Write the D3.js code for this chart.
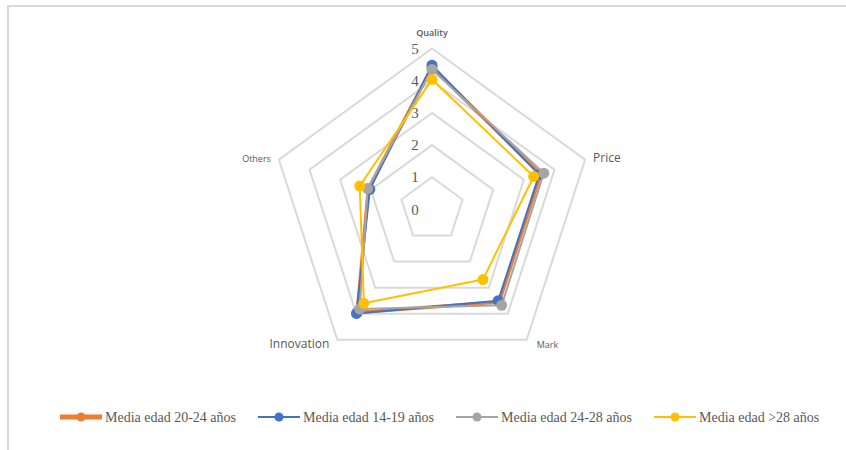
<!DOCTYPE html>
<html><head><meta charset="utf-8">
<script src="https://cdn.jsdelivr.net/npm/d3@7"></script>
<style>body{margin:0;background:#fff;}svg{display:block;}</style>
</head><body>
<svg id="chart" width="846" height="450"></svg>
<script>
const axes = ["Quality", "Price", "Mark", "Innovation", "Others"];
const seriesNames = ["Media edad 20-24 años", "Media edad 14-19 años", "Media edad 24-28 años", "Media edad >28 años"];
const serie2024 = [4.42, 3.55, 3.55, 3.95, 2.08];
const serie1419 = [4.48, 3.50, 3.50, 3.99, 2.03];
const serie2428 = [4.35, 3.65, 3.68, 3.82, 2.10];
const serie28 = [4.04, 3.32, 2.69, 3.60, 2.36];
const tickLabels = [0, 1, 2, 3, 4, 5];
const colors = ["#ED7D31", "#4472C4", "#A5A5A5", "#FFC000"];

const allSeries = [serie2024, serie1419, serie2428, serie28];
const svg = d3.select("#chart");
const cx = 432, cy = 209.5, R = 161;
const r = d3.scaleLinear().domain([0, 5]).range([0, R]);
const ang = d3.scalePoint().domain(axes).range([0, 2 * Math.PI * 4 / 5]);
const pt = (a, v) => [cx + r(v) * Math.sin(ang(a)), cy - r(v) * Math.cos(ang(a))];

// frame
svg.append("line").attr("x1", 7).attr("y1", 6).attr("x2", 846).attr("y2", 6).attr("stroke", "#d9d9d9").attr("stroke-width", 2);
svg.append("line").attr("x1", 8).attr("y1", 5).attr("x2", 8).attr("y2", 450).attr("stroke", "#d9d9d9").attr("stroke-width", 2);

// grid
tickLabels.filter(t => t > 0).forEach(t => {
  svg.append("polygon")
    .attr("points", axes.map(a => pt(a, t).join(",")).join(" "))
    .attr("fill", "none").attr("stroke", "#d9d9d9").attr("stroke-width", 2);
});

// tick labels
svg.selectAll("text.tick").data(tickLabels).enter().append("text")
  .attr("class", "tick")
  .attr("x", cx - 17).attr("y", d => cy - r(d) + 5)
  .attr("text-anchor", "middle")
  .attr("font-family", "Liberation Serif, serif").attr("font-size", 15)
  .attr("fill", "#595959").text(d => d);

// axis labels
axes.forEach((a, i) => {
  const [vx, vy] = pt(a, 5);
  const s = Math.sin(ang(a)), c = Math.cos(ang(a));
  let x = vx, y = vy, anchor = "middle";
  if (Math.abs(s) < 0.01) { y = vy - 13; }
  else if (c > 0) { x = vx + (s > 0 ? 8 : -8); anchor = s > 0 ? "start" : "end"; y = vy + 2; }
  else { x = vx + (s > 0 ? 10 : -8); anchor = s > 0 ? "start" : "end"; y = vy + 8; }
  const big = (a === "Price" || a === "Innovation");
  svg.append("text").attr("x", x).attr("y", y).attr("text-anchor", anchor)
    .attr("font-family", "Open Sans, sans-serif").attr("font-size", big ? 12 : 9)
    .attr("font-weight", a === "Quality" ? 600 : 400)
    .attr("fill", "#595959").text(a);
});

// series
const line = d3.line().curve(d3.curveLinearClosed);
allSeries.forEach((vals, si) => {
  const pts = axes.map((a, i) => pt(a, vals[i]));
  svg.append("path").attr("d", line(pts)).attr("fill", "none")
    .attr("stroke", colors[si]).attr("stroke-width", si === 0 ? 3.5 : 2).attr("stroke-linejoin", "round");
  svg.append("g").selectAll("circle").data(pts).enter().append("circle")
    .attr("cx", d => d[0]).attr("cy", d => d[1]).attr("r", 5.5).attr("fill", colors[si]);
});

// legend
const lg = svg.append("g");
seriesNames.forEach((n, i) => {
  const x0 = 60 + i * 198, y0 = 417;
  lg.append("line").attr("x1", x0).attr("x2", x0 + 42).attr("y1", y0).attr("y2", y0)
    .attr("stroke", colors[i]).attr("stroke-width", i === 0 ? 5 : 2);
  lg.append("circle").attr("cx", x0 + 21).attr("cy", y0).attr("r", 4.5).attr("fill", colors[i]);
  lg.append("text").attr("x", x0 + 45).attr("y", y0 + 5)
    .attr("font-family", "Liberation Serif, serif").attr("font-size", 14)
    .attr("fill", "#595959").text(n);
});
</script>
</body></html>
